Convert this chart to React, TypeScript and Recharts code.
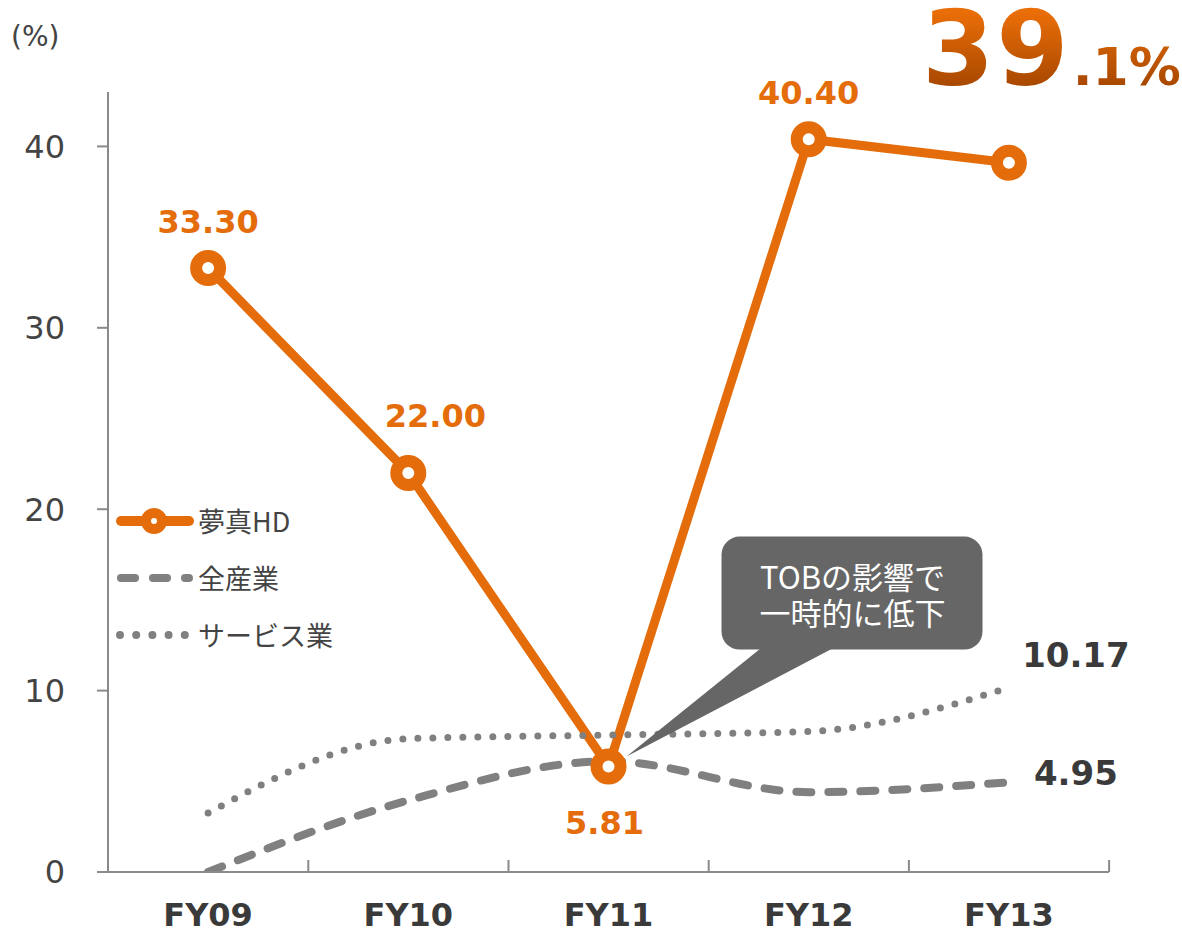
import React from 'react';
import { LineChart, Line, XAxis, YAxis, LabelList, Legend, ReferenceDot } from 'recharts';

const categories = ['FY09', 'FY10', 'FY11', 'FY12', 'FY13'];
const yumeshinHD = [33.3, 22.0, 5.81, 40.4, 39.1];
const allIndustry = [0, 3.95, 6.1, 4.4, 4.95];
const serviceIndustry = [3.25, 7.35, 7.55, 7.75, 10.17];
const yTicks = [0, 10, 20, 30, 40];
const seriesNames = ['夢真HD', '全産業', 'サービス業'];
const calloutLines = ['TOBの影響で', '一時的に低下'];
const headline = { main: '39', sub: '.1%' };

const data = categories.map((c, i) => ({
  cat: c,
  hd: yumeshinHD[i],
  all: allIndustry[i],
  svc: serviceIndustry[i],
}));

const ORANGE = '#E46C0A';
const GRAY = '#808080';
const AXIS = '#8a8a8a';
const TEXT = '#444444';
const NUM_FONT = '"DejaVu Sans", sans-serif';
const JP_FONT = '"Noto Sans CJK JP", sans-serif';

const HALF_BAND = 100.2;

const XTick = (props: any) => {
  const { x, y, payload } = props;
  return (
    <g>
      <text x={x} y={y + 54} textAnchor="middle" fontFamily={NUM_FONT} fontWeight="bold" fontSize={32} fill="#3a3a3a">
        {payload.value}
      </text>
      <line x1={x + HALF_BAND} x2={x + HALF_BAND} y1={y - 12} y2={y} stroke={AXIS} strokeWidth={2} />
    </g>
  );
};

const hdLabel = (props: any) => {
  const { x, y, index, value } = props;
  if (index === 4) return null;
  let dx = 0;
  let dy = -35;
  if (index === 1) { dx = 27; dy = -46; }
  if (index === 2) { dx = -4; dy = 67; }
  return (
    <text x={x + dx} y={y + dy} textAnchor="middle" fontFamily={NUM_FONT} fontWeight="bold" fontSize={32} fill={ORANGE}>
      {Number(value).toFixed(2)}
    </text>
  );
};

const endLabel = (dy: number) => (props: any) => {
  const { x, y, index, value } = props;
  if (index !== 4) return null;
  return (
    <text x={x + 67} y={y + dy} textAnchor="middle" fontFamily={NUM_FONT} fontWeight="bold" fontSize={34} fill="#3a3a3a">
      {Number(value).toFixed(2)}
    </text>
  );
};

const Callout = (props: any) => {
  const { cx, cy } = props;
  const rx = cx + 113;
  const ry = cy - 230;
  return (
    <g>
      <rect x={rx} y={ry} width={261} height={113} rx={18} ry={18} fill="#666666" />
      <polygon points={`${cx + 152},${cy - 118} ${cx + 224},${cy - 118} ${cx + 18},${cy - 10}`} fill="#666666" />
      <text x={rx + 131} y={ry + 52} textAnchor="middle" fontFamily={JP_FONT} fontSize={31} fill="#ffffff">
        {calloutLines.map((t, i) => (
          <tspan key={i} x={rx + 131} dy={i === 0 ? 0 : 36}>{t}</tspan>
        ))}
      </text>
    </g>
  );
};

const LegendIcon = ({ i }: { i: number }) => {
  if (i === 0) {
    return (
      <svg width={82} height={28}>
        <line x1={7} x2={75} y1={14} y2={14} stroke={ORANGE} strokeWidth={10} strokeLinecap="round" />
        <circle cx={40} cy={14} r={8} fill="#fff" stroke={ORANGE} strokeWidth={10} />
      </svg>
    );
  }
  if (i === 1) {
    return (
      <svg width={82} height={28}>
        <line x1={7} x2={75} y1={14} y2={14} stroke={GRAY} strokeWidth={8} strokeLinecap="round" strokeDasharray="14 18" />
      </svg>
    );
  }
  return (
    <svg width={82} height={28}>
      <line x1={6} x2={75} y1={14} y2={14} stroke={GRAY} strokeWidth={8} strokeLinecap="round" strokeDasharray="0 16.2" />
    </svg>
  );
};

const LegendContent = () => (
  <div>
    {seriesNames.map((n, i) => (
      <div key={n} style={{ display: 'flex', alignItems: 'center', height: 57 }}>
        <LegendIcon i={i} />
        <span style={{ fontFamily: JP_FONT, fontSize: 27, color: TEXT, marginLeft: 2 }}>{n}</span>
      </div>
    ))}
  </div>
);

export default function App() {
  return (
    <div style={{ position: 'absolute', left: 0, top: 0, width: 1182, height: 934, background: '#fff' }}>
      <LineChart width={1182} height={934} data={data} margin={{ top: 92, right: 73, bottom: 0, left: 0 }}>
        <XAxis
          dataKey="cat"
          scale="band"
          height={62}
          tick={<XTick />}
          tickSize={0}
          tickMargin={0}
          tickLine={false}
          axisLine={{ stroke: AXIS, strokeWidth: 2 }}
          interval={0}
        />
        <YAxis
          width={108}
          domain={[0, 43]}
          ticks={yTicks}
          allowDataOverflow
          tickSize={11}
          tickMargin={32}
          tick={{ fontSize: 32, fill: TEXT, fontFamily: NUM_FONT }}
          tickLine={{ stroke: AXIS, strokeWidth: 2 }}
          axisLine={{ stroke: AXIS, strokeWidth: 2 }}
        />
        <Legend
          layout="vertical"
          align="center"
          verticalAlign="middle"
          content={<LegendContent />}
          wrapperStyle={{ left: 114, top: 492, width: 280, height: 171 }}
        />
        <ReferenceDot x="FY11" y={5.81} r={0} shape={<Callout />} ifOverflow="visible" />
        <Line
          name={seriesNames[0]}
          dataKey="hd"
          type="linear"
          stroke={ORANGE}
          strokeWidth={9}
          dot={{ r: 12, fill: '#fff', stroke: ORANGE, strokeWidth: 12 }}
          activeDot={false}
          isAnimationActive={false}
        >
          <LabelList dataKey="hd" content={hdLabel} />
        </Line>
        <Line
          name={seriesNames[1]}
          dataKey="all"
          type="monotone"
          stroke={GRAY}
          strokeWidth={8}
          strokeLinecap="round"
          strokeDasharray="15 17"
          dot={false}
          activeDot={false}
          isAnimationActive={false}
        >
          <LabelList dataKey="all" content={endLabel(3)} />
        </Line>
        <Line
          name={seriesNames[2]}
          dataKey="svc"
          type="monotone"
          stroke={GRAY}
          strokeWidth={7}
          strokeLinecap="round"
          strokeDasharray="0 15"
          dot={false}
          activeDot={false}
          isAnimationActive={false}
        >
          <LabelList dataKey="svc" content={endLabel(-21)} />
        </Line>
      </LineChart>
      <div style={{ position: 'absolute', left: 11, top: 20, fontFamily: NUM_FONT, fontSize: 28, color: TEXT }}>(%)</div>
      <svg style={{ position: 'absolute', left: 0, top: 0 }} width={1182} height={110}>
        <defs>
          <linearGradient id="hg" x1="0" y1="12" x2="0" y2="86" gradientUnits="userSpaceOnUse">
            <stop offset="0" stopColor="#EA6E08" />
            <stop offset="1" stopColor="#A84800" />
          </linearGradient>
        </defs>
        <text x={922} y={85} fontFamily={NUM_FONT} fontWeight="bold" fill="url(#hg)">
          <tspan fontSize={104} letterSpacing={2}>{headline.main}</tspan>
          <tspan fontSize={52} dx={2}>{headline.sub}</tspan>
        </text>
      </svg>
    </div>
  );
}
